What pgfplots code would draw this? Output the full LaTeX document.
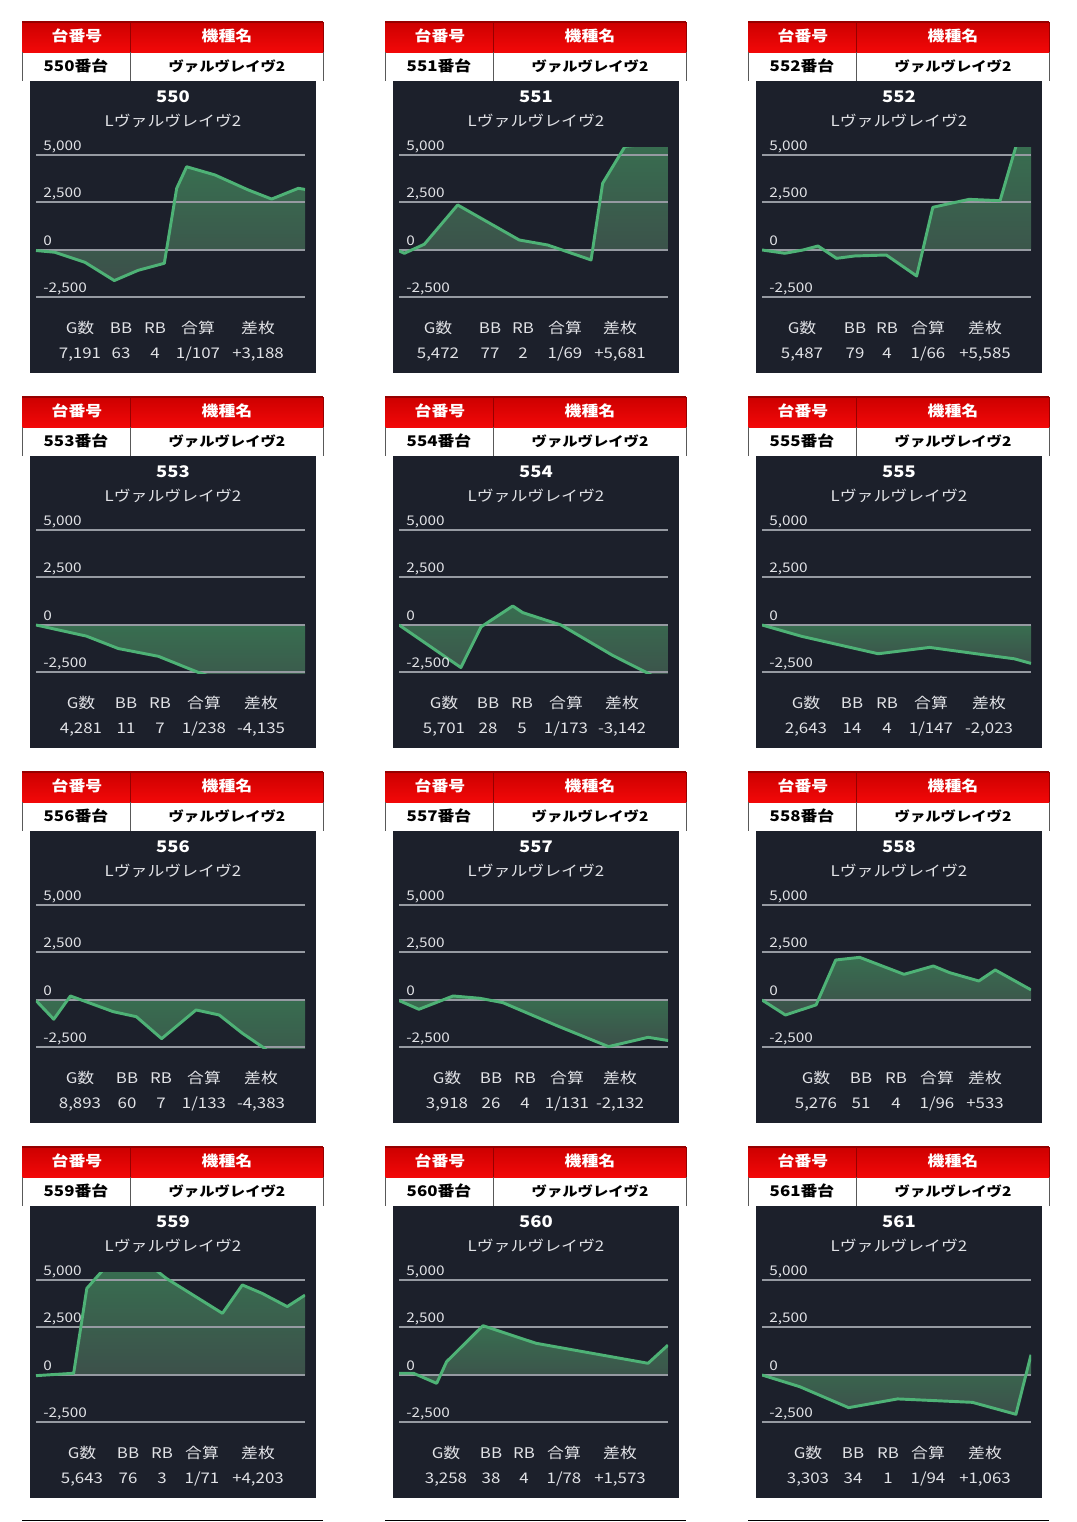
\documentclass[border=0pt]{standalone}
\usepackage{pgfplots}
\pgfplotsset{compat=1.18}
\usepackage{pgfplotstable}
\usepackage{fontspec}
\setmainfont{Noto Sans CJK JP}[FakeStretch=1.15]

\definecolor{panel}{RGB}{28,32,43}
\definecolor{gridc}{RGB}{150,154,162}
\definecolor{lineg}{RGB}{78,178,118}
\definecolor{areatop}{RGB}{56,110,80}
\definecolor{areabot}{RGB}{60,80,74}
\definecolor{txt}{RGB}{225,226,230}
\definecolor{redtop}{RGB}{205,0,0}
\definecolor{redbot}{RGB}{242,8,8}
\definecolor{redline}{RGB}{150,0,0}

\pgfplotstableread{
x y
0 -30
7 -120
18.2 -650
29.1 -1610
38 -1070
47.7 -700
52.3 3245
56 4380
66.5 3950
78.9 3160
87.6 2680
97.5 3245
100 3188
}\tA
\pgfplotstableread{
x y
0 -50
2 -175
9.4 300
21.8 2370
34.2 1370
44.7 525
55.3 260
71.4 -525
75.7 3510
84 5450
100 5681
}\tB
\pgfplotstableread{
x y
0 0
8.5 -175
15.3 0
20.8 210
27.7 -440
34.5 -315
46.2 -265
57.5 -1370
63.5 2245
69 2420
77 2665
88.5 2595
94.5 5500
100 5585
}\tC
\pgfplotstableread{
x y
0 0
18.7 -585
30.6 -1240
45.5 -1650
60.4 -2500
75 -3200
100 -4135
}\tD
\pgfplotstableread{
x y
0 0
23 -2240
30.5 -100
42.3 1000
46 650
60.2 0
79.4 -1600
92.4 -2530
100 -3142
}\tE
\pgfplotstableread{
x y
0 0
14.8 -600
43.2 -1515
62.3 -1180
81.5 -1550
93.8 -1780
100 -2023
}\tF
\pgfplotstableread{
x y
0 -30
6.6 -1015
12.8 210
28.7 -615
37.3 -880
46.7 -2035
59.5 -525
68.1 -790
76.7 -1750
84.5 -2500
100 -4383
}\tG
\pgfplotstableread{
x y
0 -30
7.4 -490
20.1 210
30 90
38.6 -140
59.5 -1400
77.9 -2455
92.6 -1965
100 -2132
}\tH
\pgfplotstableread{
x y
0 0
8.7 -790
20.1 -260
27.4 2105
36.3 2245
52.8 1350
63.7 1790
69.7 1440
80.6 1000
86.7 1580
100 533
}\tI
\pgfplotstableread{
x y
0 -35
14 90
18.9 4560
26 5700
43 5700
48.4 5090
69.3 3245
76.7 4740
84 4300
93.4 3600
100 4203
}\tJ
\pgfplotstableread{
x y
0 90
5.4 90
14 -440
17.7 700
31.2 2595
50.9 1670
92.6 615
100 1573
}\tK
\pgfplotstableread{
x y
0 0
14 -615
32.2 -1720
50.4 -1260
78.2 -1440
94.4 -2070
100 1063
}\tL

\tikzset{
 px/.style={x=0.75pt,y=-0.75pt},
 hdr/.style={text=white,font=\fontsize{11}{13}\selectfont\bfseries,inner sep=0pt,anchor=base},
 cell/.style={text=black,font=\fontsize{11}{13}\selectfont\bfseries,inner sep=0pt,anchor=base},
 cell2/.style={text=black,font=\fontsize{10}{12}\selectfont\bfseries,inner sep=0pt,anchor=base},
 ttl/.style={text=white,font=\fontsize{12}{14}\selectfont\bfseries,inner sep=0pt,anchor=base},
 sub/.style={text=txt,font=\fontsize{11}{13}\selectfont,inner sep=0pt,anchor=base},
 tck/.style={text=txt,font=\fontsize{10}{12}\selectfont,inner sep=0pt,anchor=base west},
 lbl/.style={text=txt,font=\fontsize{11}{13}\selectfont,inner sep=0pt,anchor=base},
 val/.style={text=txt,font=\fontsize{11}{13}\selectfont,inner sep=0pt,anchor=base},
}

\newcommand\st[4]{\begin{scope}[px]\node[lbl] at (#1,{#2+311}) {#3}; \node[val] at (#1,{#2+336}) {#4};\end{scope}}

\newcommand\panel[4]{%
 \begin{scope}[px]
 \shade[top color=redtop,bottom color=redbot] (#1,#2) rectangle ({#1+301},{#2+30});
 \draw[redline,line width=0.9pt] (#1,#2) -- ({#1+301},#2);
 \draw[redline,line width=0.6pt] ({#1+108},#2) -- ({#1+108},{#2+30});
 \draw[redline,line width=0.6pt] ({#1+301},#2) -- ({#1+301},{#2+30});
 \draw[gray!70!black,line width=0.6pt] (#1,{#2+30}) -- (#1,{#2+59});
 \draw[gray!70!black,line width=0.6pt] ({#1+108},{#2+30}) -- ({#1+108},{#2+59});
 \draw[gray!70!black,line width=0.6pt] ({#1+301},{#2+30}) -- ({#1+301},{#2+59});
 \node[hdr] at ({#1+55},{#2+19}) {台番号};
 \node[hdr] at ({#1+205},{#2+19}) {機種名};
 \node[cell] at ({#1+54},{#2+49}) {#3番台};
 \node[cell2] at ({#1+205},{#2+49}) {ヴァルヴレイヴ2};
 \fill[panel] ({#1+8},{#2+59}) rectangle ({#1+294},{#2+351});
 \node[ttl] at ({#1+151},{#2+80}) {#3};
 \node[sub] at ({#1+151},{#2+104}) {Lヴァルヴレイヴ2};
 \end{scope}
 \begin{axis}[at={({(#1+14)*0.75pt},{-(#2+276.6)*0.75pt})},anchor=south west,
   scale only axis,width=201.75pt,height=113.7pt,
   xmin=0,xmax=100,ymin=-2560,ymax=5420,hide axis]
  \addplot[draw=none,top color=areatop,bottom color=areabot] table[x=x,y=y] {#4} \closedcycle;
  \draw[gridc,line width=1.5pt] (axis cs:0,5000) -- (axis cs:100,5000);
  \draw[gridc,line width=1.5pt] (axis cs:0,2500) -- (axis cs:100,2500);
  \draw[gridc,line width=1.5pt] (axis cs:0,0) -- (axis cs:100,0);
  \draw[gridc,line width=1.5pt] (axis cs:0,-2500) -- (axis cs:100,-2500);
  \addplot[lineg,line width=2.2pt,line join=round] table[x=x,y=y] {#4};
 \end{axis}
 \begin{scope}[px]
 \node[tck] at ({#1+21},{#2+128}) {5,000};
 \node[tck] at ({#1+21},{#2+175}) {2,500};
 \node[tck] at ({#1+21},{#2+223}) {0};
 \node[tck] at ({#1+21},{#2+270}) {-2,500};
 \end{scope}
}

\begin{document}
\begin{tikzpicture}
\begin{scope}[px]
\fill[white] (0,0) rectangle (1076,1522);
\path[use as bounding box] (0,0) rectangle (1076,1522);
\end{scope}

\panel{22}{22}{550}{\tA}
\st{80}{22}{G数}{7,191}\st{121}{22}{BB}{63}\st{155}{22}{RB}{4}\st{198}{22}{合算}{1/107}\st{258}{22}{差枚}{+3,188}
\panel{385}{22}{551}{\tB}
\st{438}{22}{G数}{5,472}\st{490}{22}{BB}{77}\st{523}{22}{RB}{2}\st{565}{22}{合算}{1/69}\st{620}{22}{差枚}{+5,681}
\panel{748}{22}{552}{\tC}
\st{802}{22}{G数}{5,487}\st{855}{22}{BB}{79}\st{887}{22}{RB}{4}\st{928}{22}{合算}{1/66}\st{985}{22}{差枚}{+5,585}

\panel{22}{397}{553}{\tD}
\st{81}{397}{G数}{4,281}\st{126}{397}{BB}{11}\st{160}{397}{RB}{7}\st{204}{397}{合算}{1/238}\st{261}{397}{差枚}{-4,135}
\panel{385}{397}{554}{\tE}
\st{444}{397}{G数}{5,701}\st{488}{397}{BB}{28}\st{522}{397}{RB}{5}\st{566}{397}{合算}{1/173}\st{622}{397}{差枚}{-3,142}
\panel{748}{397}{555}{\tF}
\st{806}{397}{G数}{2,643}\st{852}{397}{BB}{14}\st{887}{397}{RB}{4}\st{931}{397}{合算}{1/147}\st{989}{397}{差枚}{-2,023}

\panel{22}{772}{556}{\tG}
\st{80}{772}{G数}{8,893}\st{127}{772}{BB}{60}\st{161}{772}{RB}{7}\st{204}{772}{合算}{1/133}\st{261}{772}{差枚}{-4,383}
\panel{385}{772}{557}{\tH}
\st{447}{772}{G数}{3,918}\st{491}{772}{BB}{26}\st{525}{772}{RB}{4}\st{567}{772}{合算}{1/131}\st{620}{772}{差枚}{-2,132}
\panel{748}{772}{558}{\tI}
\st{816}{772}{G数}{5,276}\st{861}{772}{BB}{51}\st{896}{772}{RB}{4}\st{937}{772}{合算}{1/96}\st{985}{772}{差枚}{+533}

\panel{22}{1147}{559}{\tJ}
\st{82}{1147}{G数}{5,643}\st{128}{1147}{BB}{76}\st{162}{1147}{RB}{3}\st{202}{1147}{合算}{1/71}\st{258}{1147}{差枚}{+4,203}
\panel{385}{1147}{560}{\tK}
\st{446}{1147}{G数}{3,258}\st{491}{1147}{BB}{38}\st{524}{1147}{RB}{4}\st{564}{1147}{合算}{1/78}\st{620}{1147}{差枚}{+1,573}
\panel{748}{1147}{561}{\tL}
\st{808}{1147}{G数}{3,303}\st{853}{1147}{BB}{34}\st{888}{1147}{RB}{1}\st{928}{1147}{合算}{1/94}\st{985}{1147}{差枚}{+1,063}

\begin{scope}[px]
\draw[black,line width=0.8pt] (22,1520.5) -- (323,1520.5);
\draw[black,line width=0.8pt] (385,1520.5) -- (686,1520.5);
\draw[black,line width=0.8pt] (748,1520.5) -- (1049,1520.5);
\end{scope}
\end{tikzpicture}
\end{document}
